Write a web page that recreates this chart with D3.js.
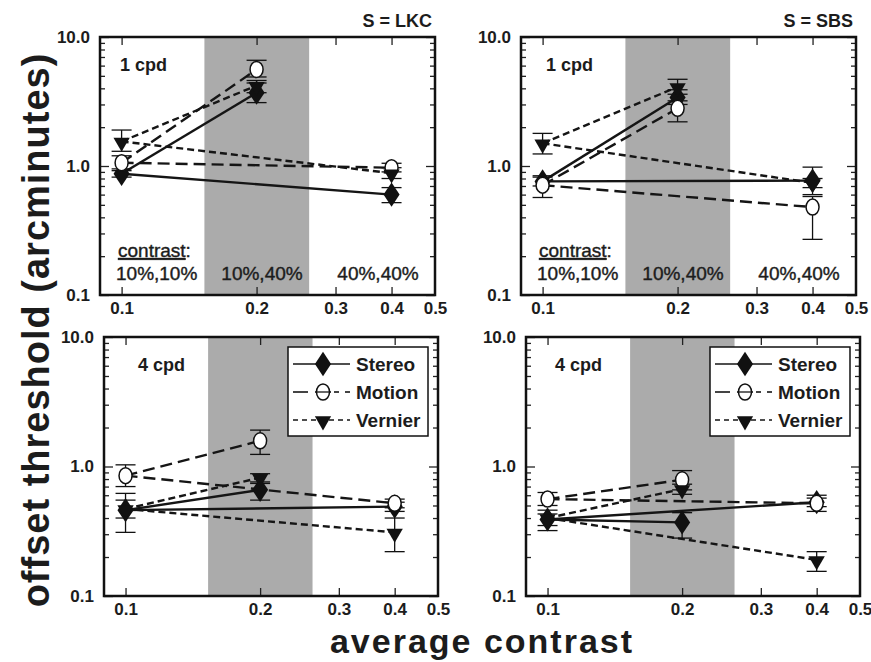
<!DOCTYPE html>
<meta charset="utf-8">
<html>
<head>
<title>offset threshold vs average contrast</title>
<script src="https://cdn.jsdelivr.net/npm/d3@7"></script>
<style>
    body{ margin:0; background:#fff;}
    text{ font-family:"Liberation Sans", Arial, Helvetica, sans-serif; fill:#1c1c1c;}
</style>
</head>
<body>
<div id="chart"></div>
<script>
// average contrast of the three conditions (10%,10% / 10%,40% / 40%,40%)
var contrasts = [0.1, 0.2, 0.4];
var conditionLabels = ["10%,10%", "10%,40%", "40%,40%"];
var shadeBand = [0.153, 0.262];
var xTickMarks = [0.1, 0.2, 0.3, 0.4];
var xTickLabels = [0.1, 0.2, 0.3, 0.4, 0.5];
var yTickLabels = [0.1, 1, 10];
var seriesNames = ["Stereo", "Motion", "Vernier"];

// S = LKC, 1 cpd
var stereo_LKC_1 = [0.87, 3.7, 0.60];
var stereoErr_LKC_1 = [[0.82, 0.92], [3.1, 4.4], [0.52, 0.68]];
var motion_LKC_1 = [1.06, 5.6, 0.97];
var motionErr_LKC_1 = [[0.95, 1.2], [4.9, 6.6], [0.9, 1.05]];
var vernier_LKC_1 = [1.55, 4.2, 0.88];
var vernierErr_LKC_1 = [[1.3, 1.9], [3.7, 4.6], [0.8, 0.97]];

// S = SBS, 1 cpd
var stereo_SBS_1 = [0.76, 3.4, 0.77];
var stereoErr_SBS_1 = [[0.7, 0.82], [3.0, 3.9], [0.6, 0.98]];
var motion_SBS_1 = [0.71, 2.8, 0.48];
var motionErr_SBS_1 = [[0.57, 0.84], [2.2, 3.2], [0.27, 0.58]];
var vernier_SBS_1 = [1.5, 4.1, 0.74];
var vernierErr_SBS_1 = [[1.24, 1.79], [3.6, 4.7], [0.68, 0.8]];

// S = LKC, 4 cpd
var stereo_LKC_4 = [0.46, 0.66, 0.49];
var stereoErr_LKC_4 = [[0.4, 0.55], [0.55, 0.76], [0.45, 0.53]];
var motion_LKC_4 = [0.85, 1.58, 0.52];
var motionErr_LKC_4 = [[0.7, 1.03], [1.24, 1.91], [0.48, 0.56]];
var vernier_LKC_4 = [0.47, 0.82, 0.31];
var vernierErr_LKC_4 = [[0.31, 0.62], [0.74, 0.88], [0.22, 0.4]];

// S = SBS, 4 cpd
var stereo_SBS_4 = [0.39, 0.37, 0.53];
var stereoErr_SBS_4 = [[0.35, 0.43], [0.28, 0.44], [0.49, 0.57]];
var motion_SBS_4 = [0.56, 0.79, 0.52];
var motionErr_SBS_4 = [[0.5, 0.63], [0.66, 0.93], [0.45, 0.6]];
var vernier_SBS_4 = [0.4, 0.67, 0.19];
var vernierErr_SBS_4 = [[0.32, 0.46], [0.61, 0.73], [0.155, 0.22]];

var W = 871, H = 662;
var svg = d3.select("#chart").append("svg").attr("width", W).attr("height", H);

var panels = [
    {x: 100, y: 37, w: 335, h: 258, freq: "1 cpd", lab: 20, subj: "S = LKC", contrastNote: true, legend: false,
        series: [[stereo_LKC_1, stereoErr_LKC_1], [motion_LKC_1, motionErr_LKC_1], [vernier_LKC_1, vernierErr_LKC_1]]},
    {x: 521, y: 37, w: 335, h: 258, freq: "1 cpd", lab: 25, subj: "S = SBS", contrastNote: true, legend: false,
        series: [[stereo_SBS_1, stereoErr_SBS_1], [motion_SBS_1, motionErr_SBS_1], [vernier_SBS_1, vernierErr_SBS_1]]},
    {x: 104, y: 337, w: 334, h: 259, freq: "4 cpd", lab: 34, legend: true,
        series: [[stereo_LKC_4, stereoErr_LKC_4], [motion_LKC_4, motionErr_LKC_4], [vernier_LKC_4, vernierErr_LKC_4]]},
    {x: 526, y: 337, w: 334, h: 259, freq: "4 cpd", lab: 29, legend: true,
        series: [[stereo_SBS_4, stereoErr_SBS_4], [motion_SBS_4, motionErr_SBS_4], [vernier_SBS_4, vernierErr_SBS_4]]}
];

var dashes = [null, "12,6", "7,4"];
var diamond = d3.symbol().type(d3.symbolDiamond).size(170);
var tri = d3.symbol().type(d3.symbolTriangle).size(115);

function marker(g, i, cx, cy) {
    if (i === 0) {
        g.append("path").attr("d", diamond).attr("transform", "translate(" + cx + "," + cy + ") scale(1.15,1)")
            .attr("fill", "#111");
    } else if (i === 1) {
        g.append("ellipse").attr("cx", cx).attr("cy", cy).attr("rx", 6.5).attr("ry", 8)
            .attr("fill", "#fff").attr("stroke", "#111").attr("stroke-width", 1.5);
    } else {
        g.append("path").attr("d", tri).attr("transform", "translate(" + cx + "," + (cy + 1) + ") rotate(180)")
            .attr("fill", "#111");
    }
}

panels.forEach(function (p) {
    var x = d3.scaleLog().domain([0.0895, 0.5]).range([p.x, p.x + p.w]);
    var y = d3.scaleLog().domain([0.1, 10]).range([p.y + p.h, p.y]);
    var g = svg.append("g");

    // shaded 10%,40% band
    g.append("rect")
        .attr("x", x(shadeBand[0])).attr("y", p.y)
        .attr("width", x(shadeBand[1]) - x(shadeBand[0])).attr("height", p.h)
        .attr("fill", "#ababab");

    // minor/major ticks, pointing inwards
    var minor = [];
    [0.1, 1].forEach(function (d) { for (var k = 2; k <= 9; k++) minor.push(d * k); });
    var axes = [
        [d3.axisLeft(y).tickValues(minor).tickSize(-5), p.x, 0],
        [d3.axisLeft(y).tickValues(yTickLabels).tickSize(-9), p.x, 0],
        [d3.axisRight(y).tickValues(minor).tickSize(-5), p.x + p.w, 0],
        [d3.axisRight(y).tickValues(yTickLabels).tickSize(-9), p.x + p.w, 0],
        [d3.axisBottom(x).tickValues(xTickMarks).tickSize(-8), 0, p.y + p.h],
        [d3.axisTop(x).tickValues(xTickMarks).tickSize(-8), 0, p.y]
    ];
    axes.forEach(function (a) {
        var ag = g.append("g").attr("transform", "translate(" + a[1] + "," + a[2] + ")")
            .call(a[0].tickFormat(""));
        ag.select(".domain").remove();
        ag.selectAll("line").attr("stroke", "#222").attr("stroke-width", 1.3);
    });

    // tick labels
    var xl = g.append("g").attr("transform", "translate(0," + (p.y + p.h) + ")")
        .call(d3.axisBottom(x).tickValues(xTickLabels).tickSize(0).tickPadding(7).tickFormat(d3.format(".1f")));
    var yl = g.append("g").attr("transform", "translate(" + p.x + ",0)")
        .call(d3.axisLeft(y).tickValues(yTickLabels).tickSize(0).tickPadding(10).tickFormat(d3.format(".1f")));
    [xl, yl].forEach(function (a) {
        a.select(".domain").remove();
        a.selectAll("text").style("font-size", "17px").style("font-weight", "bold")
            .style("font-family", "'Liberation Sans', Arial, sans-serif").attr("fill", "#1c1c1c");
    });

    // lines: from the 10%,10% point to each of the other two
    p.series.forEach(function (s, i) {
        [1, 2].forEach(function (j) {
            g.append("line")
                .attr("x1", x(contrasts[0])).attr("y1", y(s[0][0]))
                .attr("x2", x(contrasts[j])).attr("y2", y(s[0][j]))
                .attr("stroke", "#151515").attr("stroke-width", 2.4)
                .attr("stroke-dasharray", dashes[i]);
        });
    });

    // error bars
    p.series.forEach(function (s) {
        s[1].forEach(function (e, j) {
            var cx = x(contrasts[j]);
            g.append("line").attr("x1", cx).attr("x2", cx).attr("y1", y(e[0])).attr("y2", y(e[1]))
                .attr("stroke", "#111").attr("stroke-width", 1.3);
            e.forEach(function (v) {
                g.append("line").attr("x1", cx - 10).attr("x2", cx + 10).attr("y1", y(v)).attr("y2", y(v))
                    .attr("stroke", "#111").attr("stroke-width", 1.3);
            });
        });
    });

    // markers
    p.series.forEach(function (s, i) {
        s[0].forEach(function (v, j) { marker(g, i, x(contrasts[j]), y(v)); });
    });

    // frame
    g.append("rect").attr("x", p.x).attr("y", p.y).attr("width", p.w).attr("height", p.h)
        .attr("fill", "none").attr("stroke", "#111").attr("stroke-width", 2.5);

    g.append("text").attr("x", p.x + p.lab).attr("y", p.y + 34)
        .style("font-size", "18px").style("font-weight", "bold").text(p.freq);

    if (p.subj) {
        g.append("text").attr("x", p.x + p.w - 3).attr("y", p.y - 10.5).attr("text-anchor", "end")
            .style("font-size", "18px").style("font-weight", "bold").text(p.subj);
    }

    if (p.contrastNote) {
        var cn = g.append("text").attr("x", p.x + 18).attr("y", p.y + p.h - 38)
            .style("font-size", "19px").attr("stroke", "#1c1c1c").attr("stroke-width", 0.4);
        cn.append("tspan").style("text-decoration", "underline").text("contrast");
        cn.append("tspan").text(":");
        var offs = [["start", 16], ["middle", 162], ["middle", 278]];
        conditionLabels.forEach(function (c, j) {
            g.append("text").attr("x", p.x + offs[j][1]).attr("y", p.y + p.h - 15)
                .attr("text-anchor", offs[j][0]).style("font-size", "19px")
                .attr("stroke", "#1c1c1c").attr("stroke-width", 0.4).text(c);
        });
    }

    if (p.legend) {
        var lx = p.x + 184, ly = p.y + 10;
        var lg = g.append("g");
        lg.append("rect").attr("x", lx).attr("y", ly).attr("width", 140).attr("height", 89)
            .attr("fill", "#fff").attr("stroke", "#111").attr("stroke-width", 1.5);
        seriesNames.forEach(function (n, i) {
            var ry = ly + 17 + i * 28;
            if (i === 1) {
                // "- O - -" sample
                [[5, 20], [27, 43], [46, 51], [57, 62]].forEach(function (seg) {
                    lg.append("line").attr("x1", lx + seg[0]).attr("x2", lx + seg[1]).attr("y1", ry).attr("y2", ry)
                        .attr("stroke", "#151515").attr("stroke-width", 1.6);
                });
            } else {
                lg.append("line").attr("x1", lx + 5).attr("x2", lx + 62).attr("y1", ry).attr("y2", ry)
                    .attr("stroke", "#151515").attr("stroke-width", 1.6)
                    .attr("stroke-dasharray", i === 0 ? null : "5,4");
            }
            marker(lg, i, lx + 35, ry);
            if (i === 1) {
                lg.append("line").attr("x1", lx + 29).attr("x2", lx + 41).attr("y1", ry).attr("y2", ry)
                    .attr("stroke", "#151515").attr("stroke-width", 1.3);
            }
            lg.append("text").attr("x", lx + 68).attr("y", ry + 7)
                .style("font-size", "19px").style("font-weight", "bold").text(n);
        });
    }
});

// shared axis titles
svg.append("text")
    .attr("transform", "translate(49,330) rotate(-90)")
    .attr("text-anchor", "middle")
    .style("font-size", "38px").style("font-weight", "bold").style("letter-spacing", "1px")
    .text("offset threshold (arcminutes)");

svg.append("text")
    .attr("x", 482).attr("y", 653)
    .attr("text-anchor", "middle")
    .style("font-size", "34px").style("font-weight", "bold").style("letter-spacing", "2px")
    .text("average contrast");
</script>
</body>
</html>
